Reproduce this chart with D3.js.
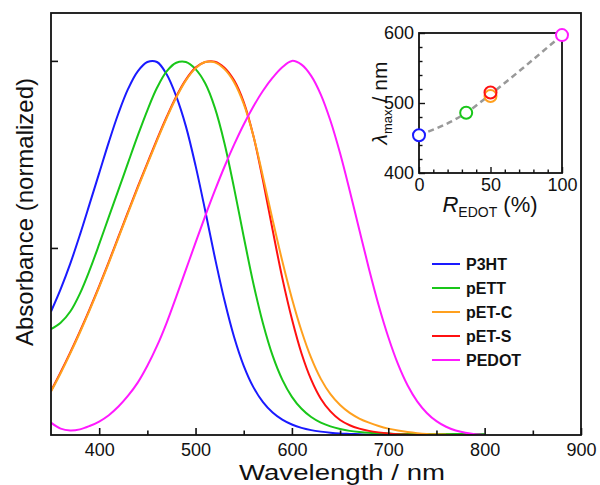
<!DOCTYPE html>
<html>
<head>
<meta charset="utf-8">
<script src="https://cdn.jsdelivr.net/npm/d3@7"></script>
<style>
  body { margin: 0; background: #fff; }
  text { font-family: "Liberation Sans", Arial, sans-serif; fill: #111; }
</style>
</head>
<body>
<div class="canvas"></div>
<script>
// wavelength grid (nm), every 10 nm
const wavelengths = d3.range(350, 801, 10);

// normalized absorbance (one value per wavelength)
const p3ht = [0.33,0.39,0.458,0.535,0.617,0.7,0.783,0.86,0.925,0.972,0.997,0.997,0.964,0.905,0.825,0.72,0.6,0.475,0.36,0.262,0.185,0.128,0.088,0.06,0.041,0.028,0.019,0.013,0.009,0.006,0.004,0.003,0.002,0.001,0.0005,0,0,0,0,0,0,0,0,0,0,0];
const pett = [0.283,0.3,0.33,0.378,0.44,0.51,0.583,0.655,0.728,0.8,0.868,0.928,0.972,0.995,0.997,0.978,0.94,0.875,0.78,0.66,0.53,0.405,0.298,0.212,0.148,0.102,0.07,0.048,0.033,0.023,0.016,0.011,0.008,0.006,0.005,0.004,0.003,0.003,0.003,0.003,0.003,0.003,0.003,0.003,0.003,0.003];
const petC = [0.116,0.165,0.218,0.274,0.333,0.395,0.46,0.527,0.594,0.66,0.724,0.787,0.847,0.902,0.948,0.98,0.997,0.996,0.978,0.943,0.885,0.8,0.69,0.575,0.465,0.365,0.278,0.206,0.15,0.109,0.08,0.059,0.044,0.033,0.024,0.017,0.012,0.008,0.005,0.003,0.002,0.001,0,0,0,0];
const petS = [0.118,0.168,0.221,0.277,0.336,0.398,0.463,0.53,0.597,0.663,0.727,0.79,0.85,0.905,0.95,0.982,0.997,0.998,0.982,0.948,0.89,0.8,0.68,0.548,0.42,0.31,0.218,0.148,0.097,0.063,0.04,0.026,0.017,0.011,0.007,0.004,0.002,0.001,0,0,0,0,0,0,0,0];
const pedot = [0.033,0.017,0.012,0.015,0.024,0.036,0.053,0.076,0.105,0.14,0.185,0.238,0.3,0.37,0.442,0.514,0.585,0.653,0.717,0.776,0.83,0.878,0.92,0.955,0.983,1.0,0.99,0.96,0.91,0.84,0.753,0.653,0.548,0.444,0.347,0.262,0.19,0.133,0.09,0.059,0.037,0.022,0.012,0.006,0.002,0];

const names = ['P3HT', 'pETT', 'pET-C', 'pET-S', 'PEDOT'];
const colors = ['#1a1aff', '#19c619', '#ffa01e', '#ff1010', '#ff1aff'];
const seriesValues = [p3ht, pett, petC, petS, pedot];
const drawOrder = [0, 1, 3, 2, 4]; // red under orange

// inset: lambda max vs EDOT fraction
const rEdot = [0, 33, 50, 50, 100];
const lambdaMax = [454, 486, 510, 515, 597];

// tick values
const xMajorTicks = [400, 500, 600, 700, 800, 900];
const xMinorTicks = [450, 550, 650, 750, 850];
const yTicks = [0.5, 1.0];
const insetXMajor = [0, 50, 100];
const insetXMinor = d3.range(10, 100, 10).filter(d => d !== 50);
const insetYMajor = [400, 500, 600];
const insetYMinor = d3.range(420, 600, 20).filter(d => d !== 500);

const svg = d3.select('.canvas')
    .append('svg')
    .attr('width', 600)
    .attr('height', 485);

svg.append('rect').attr('width', 600).attr('height', 485).attr('fill', '#fff');

// main plot area
const margin = {top: 13, right: 19, bottom: 50, left: 51};
const graphWidth = 600 - margin.left - margin.right;
const graphHeight = 485 - margin.top - margin.bottom;

const graph = svg.append('g')
    .attr('transform', `translate(${margin.left},${margin.top})`);

svg.append('clipPath').attr('id', 'plot-clip')
  .append('rect').attr('width', graphWidth).attr('height', graphHeight);

const x = d3.scaleLinear().domain([350, 900]).range([0, graphWidth]);
const y = d3.scaleLinear().domain([0, 1.128]).range([graphHeight, 0]);

// curves
const line = d3.line()
    .x((d, i) => x(wavelengths[i]))
    .y(d => y(d))
    .curve(d3.curveCatmullRom.alpha(0.5));

const curves = graph.append('g').attr('clip-path', 'url(#plot-clip)');
drawOrder.forEach(k => {
    curves.append('path')
        .datum(seriesValues[k])
        .attr('d', line)
        .attr('fill', 'none')
        .attr('stroke', colors[k])
        .attr('stroke-width', 2);
});

// axes, ticks pointing inward
const xAxisGroup = graph.append('g').attr('transform', `translate(0,${graphHeight})`);
xAxisGroup.call(d3.axisBottom(x).tickValues(xMajorTicks).tickSizeInner(-7).tickSizeOuter(0).tickPadding(8));
const xMinorGroup = graph.append('g').attr('transform', `translate(0,${graphHeight})`);
xMinorGroup.call(d3.axisBottom(x).tickValues(xMinorTicks).tickSizeInner(-4.5).tickSizeOuter(0).tickFormat(''));
const yAxisGroup = graph.append('g');
yAxisGroup.call(d3.axisLeft(y).tickValues(yTicks).tickSizeInner(-7).tickSizeOuter(0).tickFormat(''));

graph.selectAll('.domain').remove();
graph.selectAll('.tick line').attr('stroke', '#111').attr('stroke-width', 1.6);
xAxisGroup.selectAll('text').attr('font-size', 18).attr('font-family', '"Liberation Sans", Arial, sans-serif').attr('fill', '#111');

// frame
graph.append('rect')
    .attr('width', graphWidth)
    .attr('height', graphHeight)
    .attr('fill', 'none')
    .attr('stroke', '#111')
    .attr('stroke-width', 1.8);

// axis titles
svg.append('text')
    .attr('x', 342)
    .attr('y', 480)
    .attr('text-anchor', 'middle')
    .attr('font-size', 22)
    .attr('textLength', 206)
    .attr('lengthAdjust', 'spacingAndGlyphs')
    .text('Wavelength / nm');

svg.append('text')
    .attr('transform', 'translate(33,212) rotate(-90)')
    .attr('text-anchor', 'middle')
    .attr('font-size', 24)
    .text('Absorbance (normalized)');

// legend
const legend = svg.append('g').attr('transform', 'translate(432,264)');
names.forEach((name, i) => {
    const row = legend.append('g').attr('transform', `translate(0,${i * 24})`);
    row.append('line')
        .attr('x1', 0).attr('x2', 28)
        .attr('stroke', colors[i]).attr('stroke-width', 2);
    row.append('text')
        .attr('x', 34).attr('dy', '0.36em')
        .attr('font-size', 16).attr('font-weight', 'bold')
        .text(name);
});

// inset
const inset = {left: 419, top: 33, width: 143, height: 140};
const ig = svg.append('g').attr('transform', `translate(${inset.left},${inset.top})`);

const xi = d3.scaleLinear().domain([0, 100]).range([0, inset.width]);
const yi = d3.scaleLinear().domain([400, 600]).range([inset.height, 0]);

ig.append('rect')
    .attr('width', inset.width).attr('height', inset.height)
    .attr('fill', '#fff').attr('stroke', '#111').attr('stroke-width', 1.8);

ig.append('g').attr('transform', `translate(0,${inset.height})`)
    .call(d3.axisBottom(xi).tickValues(insetXMajor).tickSizeInner(-6).tickSizeOuter(0).tickPadding(5));
ig.append('g').attr('transform', `translate(0,${inset.height})`)
    .call(d3.axisBottom(xi).tickValues(insetXMinor).tickSizeInner(-3.5).tickSizeOuter(0).tickFormat(''));
ig.append('g')
    .call(d3.axisLeft(yi).tickValues(insetYMajor).tickSizeInner(-6).tickSizeOuter(0).tickPadding(5));
ig.append('g')
    .call(d3.axisLeft(yi).tickValues(insetYMinor).tickSizeInner(-3.5).tickSizeOuter(0).tickFormat(''));

ig.selectAll('.domain').remove();
ig.selectAll('.tick line').attr('stroke', '#111').attr('stroke-width', 1.4);
ig.selectAll('.tick text').attr('font-size', 18).attr('font-family', '"Liberation Sans", Arial, sans-serif').attr('fill', '#111');

// dashed trend line through the points (pET-C / pET-S averaged)
const trend = [[rEdot[0], lambdaMax[0]], [rEdot[1], lambdaMax[1]], [50, (lambdaMax[2] + lambdaMax[3]) / 2], [rEdot[4], lambdaMax[4]]];
ig.append('path')
    .datum(trend)
    .attr('d', d3.line().x(d => xi(d[0])).y(d => yi(d[1])).curve(d3.curveMonotoneX))
    .attr('fill', 'none')
    .attr('stroke', '#999')
    .attr('stroke-width', 2.5)
    .attr('stroke-dasharray', '6,4');

[0, 1, 2, 3, 4].forEach(k => {
    ig.append('circle')
        .attr('cx', xi(rEdot[k]))
        .attr('cy', yi(lambdaMax[k]))
        .attr('r', 6)
        .attr('fill', '#fff')
        .attr('fill-opacity', k === 3 ? 0 : 1)
        .attr('stroke', colors[k])
        .attr('stroke-width', 2);
});

// inset titles
const ixTitle = svg.append('text')
    .attr('x', 490)
    .attr('y', 212)
    .attr('text-anchor', 'middle')
    .attr('font-size', 22);
ixTitle.append('tspan').attr('font-style', 'italic').text('R');
ixTitle.append('tspan').attr('font-size', 14).attr('dy', 5).text('EDOT');
ixTitle.append('tspan').attr('dy', -5).text('\u00a0(%)');

const iyTitle = svg.append('text')
    .attr('transform', `translate(387,${inset.top + inset.height / 2}) rotate(-90)`)
    .attr('text-anchor', 'middle')
    .attr('font-size', 21);
iyTitle.append('tspan').attr('font-style', 'italic').text('λ');
iyTitle.append('tspan').attr('font-size', 13).attr('dy', 5).text('max');
iyTitle.append('tspan').attr('dy', -5).attr('dx', 7).text('/ nm');
</script>
</body>
</html>
